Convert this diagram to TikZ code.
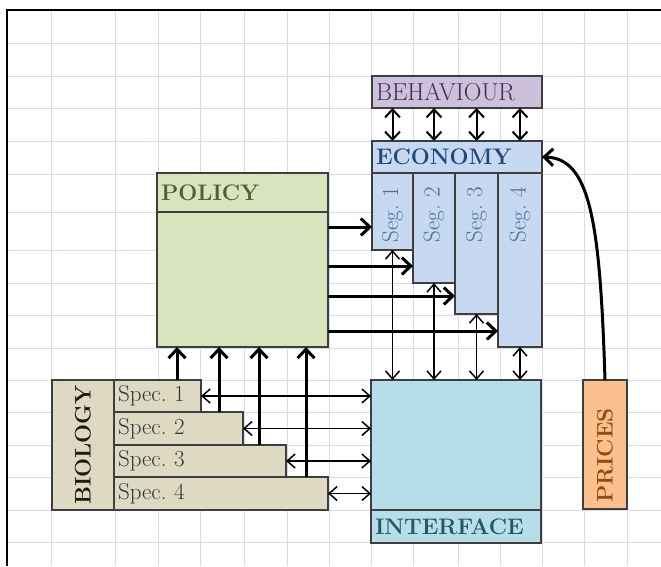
\documentclass[tikz,border=0pt]{standalone}
\usepackage{fontspec}
\usepackage{tikz}
\usetikzlibrary{arrows.meta,calc}
\definecolor{gridline}{HTML}{D8DBEA}
\definecolor{boxline}{HTML}{3E3E3E}
\definecolor{behfill}{HTML}{CCC0DA}
\definecolor{behtext}{HTML}{3F3151}
\definecolor{ecofill}{HTML}{C6D9F1}
\definecolor{ecotext}{HTML}{1F497D}
\definecolor{segtext}{HTML}{4F6E9A}
\definecolor{polfill}{HTML}{D7E4BD}
\definecolor{poltext}{HTML}{4F6228}
\definecolor{intfill}{HTML}{B7DEE8}
\definecolor{inttext}{HTML}{215968}
\definecolor{pricefill}{HTML}{FAC090}
\definecolor{pricetext}{HTML}{984807}
\definecolor{biofill}{HTML}{DDD9C3}
\definecolor{biotext}{HTML}{1D1B10}
\definecolor{spectext}{HTML}{363636}
\newcommand\diagfont{\fontsize{23}{26}\selectfont}
\newcommand\headfont{\fontsize{22.5}{26}\selectfont\bfseries}
\frenchspacing
\tikzset{
 gridrule/.style={draw=gridline,line width=.9pt},
 frame/.style={line width=2.4pt},
 box/.style={draw=boxline,line width=1.1pt,anchor=north west,inner sep=0pt,outer sep=0pt,font=\diagfont},
 headbox/.style={box,inner xsep=4pt,align=left,minimum height=32pt},
 sidelabel/.style={rotate=90,inner sep=0pt,font=\headfont},
 seglabel/.style={rotate=90,anchor=east,inner sep=0pt,font=\diagfont,text=segtext},
 bigarrow/.style={line width=3pt,-{Straight Barb[length=9pt,width=17pt]}},
 midlink/.style={line width=2pt,{Straight Barb[length=8pt,width=15pt]}-{Straight Barb[length=8pt,width=15pt]}},
 thinlink/.style={line width=1.5pt,{Straight Barb[length=8pt,width=14pt]}-{Straight Barb[length=8pt,width=14pt]}}
}
\begin{document}
\begin{tikzpicture}[x=1pt,y=-1pt]
\path[use as bounding box] (0,0) rectangle (661,566);
% spreadsheet grid
\foreach \gx in {51,115,158,200,244,287,329,371,413,458,500,542,584,627}
  \draw[gridrule] (\gx,10) -- (\gx,566);
\foreach \gy in {43,76,108,141,174,212,250,283,315,348,380,412,445,477,510,542}
  \draw[gridrule] (7,\gy) -- (661,\gy);
\draw[frame] (7,566) -- (7,10) -- (661,10);

% economy side
\node[headbox,fill=behfill,text=behtext,text width=162pt,font=\fontsize{24.5}{26}\selectfont] (behaviour) at (372,76) {BEHAVIOUR};
\node[headbox,fill=ecofill,text=ecotext,text width=162pt,font=\headfont] (economy) at (372,141) {ECONOMY};
\node[box,fill=ecofill,minimum width=41pt,minimum height=77pt] (seg1) at (372,173) {};
\node[box,fill=ecofill,minimum width=42pt,minimum height=110pt] (seg2) at (413,173) {};
\node[box,fill=ecofill,minimum width=43pt,minimum height=141pt] (seg3) at (455,173) {};
\node[box,fill=ecofill,minimum width=44pt,minimum height=174pt] (seg4) at (498,173) {};
\node[seglabel] (seg1text) at ([yshift=-14pt]seg1.north) {Seg. 1};
\node[seglabel] (seg2text) at ([yshift=-14pt]seg2.north) {Seg. 2};
\node[seglabel] (seg3text) at ([yshift=-14pt]seg3.north) {Seg. 3};
\node[seglabel] (seg4text) at ([yshift=-14pt]seg4.north) {Seg. 4};

% policy
\node[box,fill=polfill,minimum width=171pt,minimum height=174pt] (policy) at (157,173) {};
\node[headbox,fill=polfill,text=poltext,text width=163pt,minimum height=39pt,font=\headfont] (policyhead) at (157,173) {POLICY};

% interface and prices
\node[box,fill=intfill,minimum width=170pt,minimum height=163pt] (interface) at (371,380) {};
\node[headbox,fill=intfill,text=inttext,text width=162pt,minimum height=33pt,font=\headfont] (interfacehead) at (371,510) {INTERFACE};
\node[box,fill=pricefill,minimum width=44pt,minimum height=129pt] (prices) at (583,380) {};
\node[sidelabel,anchor=west,text=pricetext] (pricestext) at ([yshift=6pt]prices.south) {PRICES};

% biology
\node[box,fill=biofill,minimum width=62pt,minimum height=130pt] (biology) at (52,380) {};
\node[sidelabel,text=biotext] (biologytext) at (biology) {BIOLOGY};
\node[headbox,fill=biofill,text=spectext,text width=79pt] (spec1) at (114,380) {Spec. 1};
\node[headbox,fill=biofill,text=spectext,text width=121pt,minimum height=33pt] (spec2) at (114,412) {Spec. 2};
\node[headbox,fill=biofill,text=spectext,text width=164pt] (spec3) at (114,445) {Spec. 3};
\node[headbox,fill=biofill,text=spectext,text width=206pt,minimum height=33pt] (spec4) at (114,477) {Spec. 4};

% behaviour <-> economy
\draw[midlink] (seg1.north |- behaviour.south) -- (seg1.north |- economy.north);
\draw[midlink] (seg2.north |- behaviour.south) -- (seg2.north |- economy.north);
\draw[midlink] (seg3.north |- behaviour.south) -- (seg3.north |- economy.north);
\draw[midlink] (seg4.north |- behaviour.south) -- (seg4.north |- economy.north);

% policy -> segments
\coordinate (in1) at ([yshift=23pt]seg1.south west);
\coordinate (in2) at ([yshift=17pt]seg2.south west);
\coordinate (in3) at ([yshift=18pt]seg3.south west);
\coordinate (in4) at ([yshift=16pt]seg4.south west);
\draw[bigarrow] (policy.east |- in1) -- (in1);
\draw[bigarrow] (policy.east |- in2) -- (in2);
\draw[bigarrow] (policy.east |- in3) -- (in3);
\draw[bigarrow] (policy.east |- in4) -- (in4);

% segments <-> interface
\draw[thinlink] (seg1.south) -- (seg1.south |- interface.north);
\draw[thinlink] (seg2.south) -- (seg2.south |- interface.north);
\draw[thinlink] (seg3.south) -- (seg3.south |- interface.north);
\draw[thinlink] (seg4.south) -- (seg4.south |- interface.north);

% species -> policy
\coordinate (up1) at ([xshift=-24pt]spec1.north east);
\coordinate (up2) at ([xshift=-24pt]spec2.north east);
\coordinate (up3) at ([xshift=-27pt]spec3.north east);
\coordinate (up4) at ([xshift=-22pt]spec4.north east);
\draw[bigarrow] (up1) -- (up1 |- policy.south);
\draw[bigarrow] (up2) -- (up2 |- policy.south);
\draw[bigarrow] (up3) -- (up3 |- policy.south);
\draw[bigarrow] (up4) -- (up4 |- policy.south);

% species <-> interface
\draw[thinlink] (spec1.east) -- (spec1.east -| interface.west);
\draw[thinlink] (spec2.east) -- (spec2.east -| interface.west);
\draw[thinlink] (spec3.east) -- (spec3.east -| interface.west);
\draw[thinlink] (spec4.east) -- (spec4.east -| interface.west);

% prices -> economy
\draw[bigarrow] (prices.north) .. controls (600,220) and (590,158) .. (economy.east);
\end{tikzpicture}
\end{document}
